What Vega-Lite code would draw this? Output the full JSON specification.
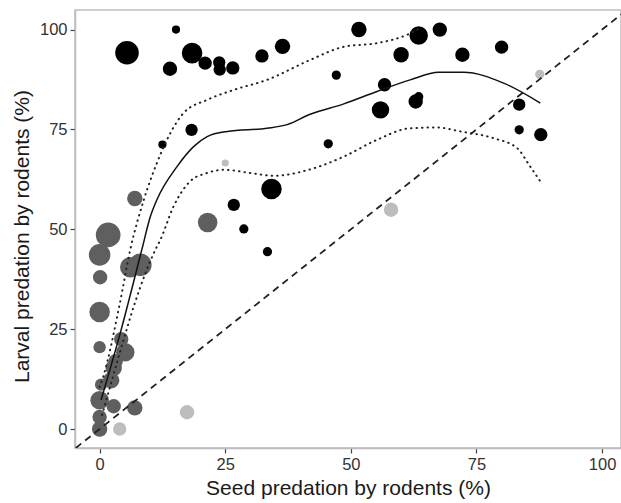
{
  "$schema": "https://vega.github.io/schema/vega-lite/v6.json",
  "width": 546,
  "height": 438,
  "autosize": {"type": "none"},
  "padding": {"left": 75, "top": 10, "right": 0, "bottom": 55},
  "background": "white",
  "config": {
    "view": {"stroke": "#bdbdbd", "strokeWidth": 1.5},
    "axis": {
      "grid": false,
      "domainColor": "#bdbdbd",
      "domainWidth": 1.5,
      "tickColor": "#444444",
      "tickSize": 5,
      "tickWidth": 1.2,
      "labelFont": "Liberation Sans",
      "labelFontSize": 16.5,
      "labelColor": "#333333",
      "labelPadding": 3,
      "titleFont": "Liberation Sans",
      "titleFontSize": 21,
      "titleFontWeight": "normal",
      "titleColor": "#1a1a1a"
    }
  },
  "datasets": {
    "pts": [
      {"g": "A", "x": 5.45, "y": 94.2, "n": 23},
      {"g": "A", "x": 15.2, "y": 100, "n": 8},
      {"g": "A", "x": 14.0, "y": 90.2, "n": 14},
      {"g": "A", "x": 18.4, "y": 94.1, "n": 20},
      {"g": "A", "x": 21.0, "y": 91.6, "n": 13},
      {"g": "A", "x": 23.8, "y": 91.8, "n": 12},
      {"g": "A", "x": 23.9, "y": 90.0, "n": 12},
      {"g": "A", "x": 26.5, "y": 90.4, "n": 13},
      {"g": "A", "x": 32.3, "y": 93.4, "n": 13},
      {"g": "A", "x": 36.4, "y": 95.8, "n": 15},
      {"g": "A", "x": 18.3, "y": 74.9, "n": 12},
      {"g": "A", "x": 12.5, "y": 71.2, "n": 8},
      {"g": "A", "x": 34.2, "y": 60.1, "n": 20},
      {"g": "A", "x": 26.7, "y": 56.1, "n": 12},
      {"g": "A", "x": 28.7, "y": 50.1, "n": 9},
      {"g": "A", "x": 33.4, "y": 44.4, "n": 9},
      {"g": "A", "x": 45.5, "y": 71.4, "n": 9},
      {"g": "A", "x": 51.6, "y": 100, "n": 15},
      {"g": "A", "x": 47.1, "y": 88.6, "n": 9},
      {"g": "A", "x": 63.5, "y": 98.5, "n": 18},
      {"g": "A", "x": 67.7, "y": 100, "n": 14},
      {"g": "A", "x": 60.0, "y": 93.7, "n": 15},
      {"g": "A", "x": 72.2, "y": 93.7, "n": 14},
      {"g": "A", "x": 80.0, "y": 95.6, "n": 13},
      {"g": "A", "x": 56.7, "y": 86.2, "n": 13},
      {"g": "A", "x": 55.9, "y": 79.9, "n": 17},
      {"g": "A", "x": 63.5, "y": 83.2, "n": 9},
      {"g": "A", "x": 62.9, "y": 82.0, "n": 14},
      {"g": "A", "x": 83.5, "y": 81.2, "n": 12},
      {"g": "A", "x": 83.5, "y": 74.9, "n": 9},
      {"g": "A", "x": 87.8, "y": 73.7, "n": 13},
      {"g": "C", "x": 87.6, "y": 88.8, "n": 9},
      {"g": "C", "x": 25.0, "y": 66.6, "n": 7},
      {"g": "C", "x": 58.0, "y": 54.9, "n": 14},
      {"g": "C", "x": 17.4, "y": 4.2, "n": 14},
      {"g": "C", "x": 4.0, "y": 0, "n": 13},
      {"g": "B", "x": 7.0, "y": 57.7, "n": 15},
      {"g": "B", "x": 1.7, "y": 48.6, "n": 24},
      {"g": "B", "x": 21.5, "y": 51.7, "n": 19},
      {"g": "B", "x": 0, "y": 43.6, "n": 21},
      {"g": "B", "x": 0.1, "y": 38.0, "n": 14},
      {"g": "B", "x": 6.1, "y": 40.5, "n": 20},
      {"g": "B", "x": 8.1, "y": 41.1, "n": 22},
      {"g": "B", "x": 0, "y": 29.3, "n": 20},
      {"g": "B", "x": 0, "y": 20.5, "n": 12},
      {"g": "B", "x": 4.3, "y": 22.5, "n": 14},
      {"g": "B", "x": 5.1, "y": 19.2, "n": 18},
      {"g": "B", "x": 3.2, "y": 17.0, "n": 14},
      {"g": "B", "x": 2.8, "y": 15.3, "n": 16},
      {"g": "B", "x": 2.3, "y": 12.2, "n": 16},
      {"g": "B", "x": 0.3, "y": 11.1, "n": 12},
      {"g": "B", "x": 0, "y": 7.2, "n": 18},
      {"g": "B", "x": 2.8, "y": 5.7, "n": 14},
      {"g": "B", "x": 7.0, "y": 5.3, "n": 15},
      {"g": "B", "x": 0, "y": 3.0, "n": 14},
      {"g": "B", "x": 0, "y": 0, "n": 15}
    ],
    "fit": [
      {"x": 0.3, "y": 7.3}, {"x": 4.1, "y": 24.0}, {"x": 8.4, "y": 44.9},
      {"x": 10.1, "y": 53.2}, {"x": 11.4, "y": 57.4}, {"x": 15.4, "y": 65.7},
      {"x": 18.7, "y": 70.7}, {"x": 21.4, "y": 73.2}, {"x": 25.4, "y": 74.5},
      {"x": 33.3, "y": 75.3}, {"x": 37.3, "y": 76.2}, {"x": 41.9, "y": 78.8},
      {"x": 48.6, "y": 81.4}, {"x": 55.2, "y": 84.5}, {"x": 61.8, "y": 87.4},
      {"x": 67.5, "y": 89.3}, {"x": 72.4, "y": 89.3}, {"x": 80.4, "y": 86.6},
      {"x": 87.7, "y": 81.6}
    ],
    "upper": [
      {"x": 0, "y": 10.5}, {"x": 0.74, "y": 13.2}, {"x": 4.06, "y": 31.7},
      {"x": 6.1, "y": 44.9}, {"x": 8.8, "y": 57.4}, {"x": 11.4, "y": 66.6},
      {"x": 13.4, "y": 72.4}, {"x": 16.7, "y": 79.1}, {"x": 21.4, "y": 82.4},
      {"x": 26.7, "y": 84.9}, {"x": 33.3, "y": 87.4}, {"x": 41.9, "y": 92.4},
      {"x": 48.6, "y": 95.7}, {"x": 55.2, "y": 96.6}, {"x": 61.2, "y": 98.7},
      {"x": 64.0, "y": 100.5}
    ],
    "lower": [
      {"x": 0.5, "y": 3.5}, {"x": 4.0, "y": 19.0}, {"x": 7.0, "y": 31.5},
      {"x": 11.1, "y": 44.9}, {"x": 12.1, "y": 47.4}, {"x": 14.7, "y": 55.7},
      {"x": 18.0, "y": 62.0}, {"x": 21.4, "y": 64.1}, {"x": 24.7, "y": 64.9},
      {"x": 30.0, "y": 64.1}, {"x": 34.6, "y": 63.4}, {"x": 41.9, "y": 65.0},
      {"x": 48.6, "y": 68.2}, {"x": 55.2, "y": 72.4}, {"x": 61.8, "y": 75.3},
      {"x": 67.1, "y": 75.5}, {"x": 71.8, "y": 74.5}, {"x": 78.4, "y": 72.8},
      {"x": 83.1, "y": 70.3}, {"x": 85.7, "y": 65.7}, {"x": 87.7, "y": 62.0}
    ],
    "diag": [
      {"x": -4.75, "y": -4.75}, {"x": 104, "y": 104}
    ]
  },
  "encoding": {
    "x": {
      "field": "x", "type": "quantitative",
      "scale": {"domain": [-4.9, 103.76], "nice": false, "zero": false},
      "axis": {"values": [0, 25, 50, 75, 100], "title": "Seed predation by rodents (%)", "titlePadding": 5}
    },
    "y": {
      "field": "y", "type": "quantitative",
      "scale": {"domain": [-4.75, 104.9], "nice": false, "zero": false},
      "axis": {"values": [0, 25, 50, 75, 100], "title": "Larval predation by rodents (%)", "titlePadding": 7, "titleY": 226}
    }
  },
  "layer": [
    {
      "data": {"name": "pts"},
      "mark": {"type": "circle", "opacity": 1, "strokeWidth": 0},
      "encoding": {
        "color": {
          "field": "g", "type": "nominal",
          "scale": {"domain": ["A", "B", "C"], "range": ["#000000", "#5f5f5f", "#bdbdbd"]},
          "legend": null
        },
        "size": {
          "field": "n", "type": "quantitative",
          "scale": {"type": "pow", "exponent": 2, "domain": [0, 25], "range": [0, 660]},
          "legend": null
        }
      }
    },
    {
      "data": {"name": "diag"},
      "mark": {"type": "line", "color": "#222222", "strokeWidth": 1.8, "strokeDash": [7, 5], "clip": true},
      "encoding": {}
    },
    {
      "data": {"name": "fit"},
      "mark": {"type": "line", "color": "#111111", "strokeWidth": 1.5, "interpolate": "monotone"},
      "encoding": {}
    },
    {
      "data": {"name": "upper"},
      "mark": {"type": "line", "color": "#222222", "strokeWidth": 2, "strokeDash": [0.5, 5], "strokeCap": "round", "interpolate": "monotone", "clip": true},
      "encoding": {}
    },
    {
      "data": {"name": "lower"},
      "mark": {"type": "line", "color": "#222222", "strokeWidth": 2, "strokeDash": [0.5, 5], "strokeCap": "round", "interpolate": "monotone"},
      "encoding": {}
    }
  ]
}
